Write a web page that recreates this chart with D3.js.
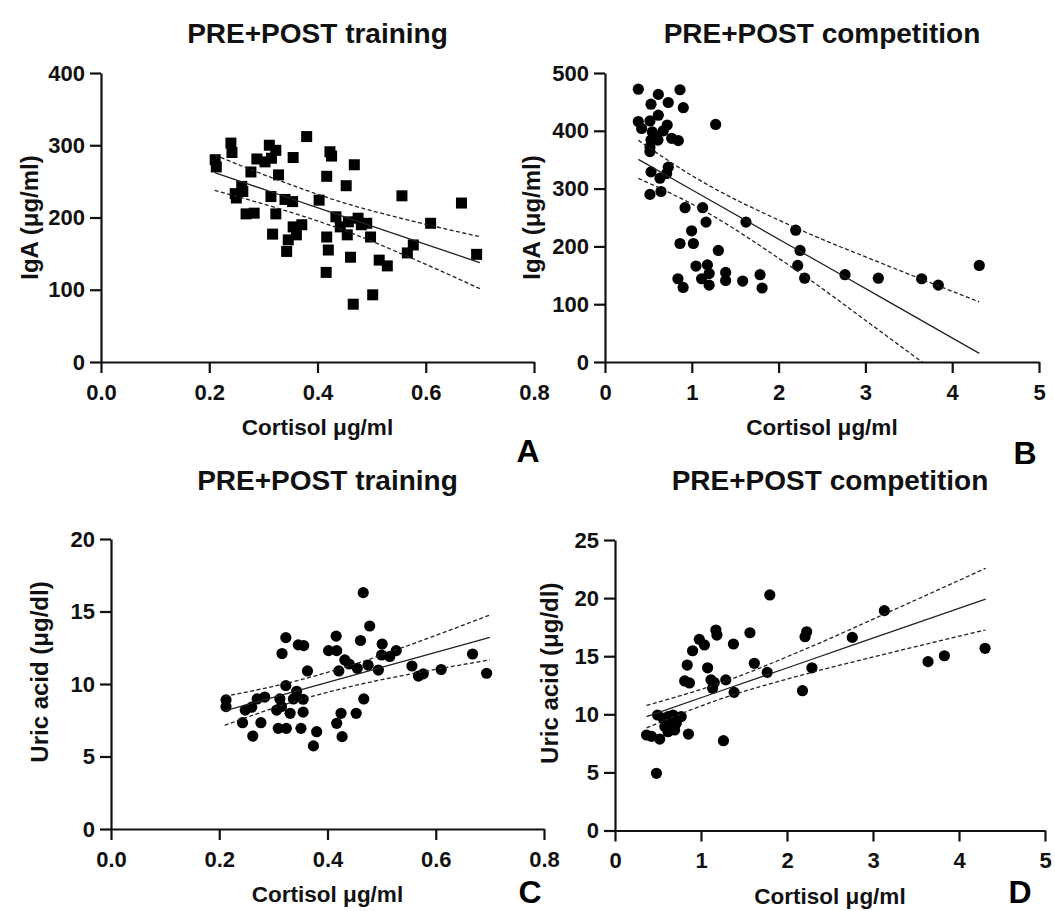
<!DOCTYPE html>
<html>
<head>
<meta charset="utf-8">
<script src="https://cdn.jsdelivr.net/npm/d3@7"></script>
<style>
  body { margin: 0; background: #fff; }
  text { font-family: "Liberation Sans", Arial, sans-serif; font-weight: bold; }
</style>
</head>
<body>
<svg width="1055" height="911"></svg>
<script>
// ---- data ----
var titles = ["PRE+POST training", "PRE+POST competition", "PRE+POST training", "PRE+POST competition"];
var letters = ["A", "B", "C", "D"];
var xTitle = "Cortisol \u03bcg/ml";
var yTitleIgA = "IgA (\u03bcg/ml)";
var yTitleUric = "Uric acid (\u03bcg/dl)";

var xTicksTraining = [0, 0.2, 0.4, 0.6, 0.8];
var xTicksCompetition = [0, 1, 2, 3, 4, 5];
var yTicksA = [0, 100, 200, 300, 400];
var yTicksB = [0, 100, 200, 300, 400, 500];
var yTicksC = [0, 5, 10, 15, 20];
var yTicksD = [0, 5, 10, 15, 20, 25];

// A: training, cortisol vs IgA
var aCortisol = [0.211,0.213,0.240,0.242,0.288,0.311,0.323,0.315,0.303,0.277,0.328,0.355,0.380,0.423,0.426,0.468,0.417,0.453,0.556,0.666,
  0.260,0.248,0.250,0.262,0.314,0.340,0.354,0.403,0.268,0.283,0.323,0.317,0.355,0.371,0.361,0.346,0.343,0.434,0.442,0.457,
  0.475,0.491,0.481,0.455,0.417,0.420,0.498,0.461,0.416,0.514,0.529,0.577,0.566,0.609,0.694,0.502,0.466];
var aIgA = [280,270,303,290,281,300,293,282,277,263,259,283,312,291,285,273,257,244,230,220,
  243,233,227,236,229,225,222,224,205,206,205,177,187,190,176,169,153,201,187,194,
  199,192,190,176,173,155,173,145,124,141,133,162,151,192,149,93,80];
var aFitX = [0.21, 0.33, 0.45, 0.57, 0.70];
var aFit = [262, 231.5, 201, 170.5, 137.5];
var aUpper = [286.5, 251, 220, 196, 173.5];
var aLower = [237.5, 212, 182, 145, 101.5];

// B: competition, cortisol vs IgA
var bCortisol = [0.384,0.614,0.864,0.530,0.729,0.902,0.614,0.384,0.518,0.422,0.717,0.671,0.545,0.590,0.530,0.610,0.768,0.845,1.275,0.518,
  0.518,0.530,0.729,0.710,0.633,0.518,0.645,0.922,1.125,1.164,1.624,0.998,0.864,1.018,1.306,1.048,1.180,1.200,1.113,0.840,
  0.900,1.200,1.390,1.390,1.586,1.786,1.810,2.197,2.247,2.220,2.300,2.765,3.149,3.648,3.840,4.312];
var bIgA = [472,463,471,446,449,440,427,416,417,404,410,400,398,390,384,384,387,383,411,372,
  364,329,337,326,318,290,295,267,267,242,242,227,205,205,193,166,168,153,144,144,
  129,133,155,141,140,151,128,228,193,167,145,151,145,144,133,167];
var bFitX = [0.384, 1.0, 2.2, 3.2, 4.312];
var bFit = [350.6, 298, 195.5, 110, 15];
var bUpper = [383.5, 322.6, 232, 170, 104];
var bLower = [317.7, 273.4, 159, 50, -74];

// C: training, cortisol vs uric acid
var cCortisol = [0.466,0.478,0.323,0.316,0.346,0.356,0.416,0.461,0.402,0.417,0.501,0.527,0.500,0.515,0.432,0.440,0.455,0.475,0.494,0.421,
  0.363,0.556,0.568,0.577,0.610,0.668,0.694,0.2125,0.2125,0.248,0.260,0.270,0.284,0.243,0.277,0.262,0.312,0.323,0.343,0.337,
  0.355,0.306,0.315,0.331,0.355,0.309,0.324,0.351,0.380,0.374,0.425,0.417,0.427,0.453,0.467];
var cUric = [16.3,14.0,13.2,12.1,12.7,12.65,13.3,13.0,12.3,12.3,12.76,12.3,12.0,11.9,11.66,11.38,11.08,11.3,10.96,10.9,
  10.9,11.24,10.55,10.7,11.0,12.07,10.74,8.9,8.44,8.2,8.4,8.97,9.1,7.33,7.33,6.41,8.97,9.89,9.5,8.97,
  8.95,8.2,8.45,7.98,8.06,6.94,6.94,6.94,6.71,5.73,7.98,7.29,6.37,7.98,8.97];
var cFitX = [0.21, 0.33, 0.45, 0.57, 0.70];
var cFit = [8.15, 9.39, 10.63, 11.87, 13.21];
var cUpper = [9.15, 10.1, 11.37, 12.94, 14.76];
var cLower = [7.15, 8.69, 9.89, 10.80, 11.66];

// D: competition, cortisol vs uric acid
var dCortisol = [1.800,3.132,2.759,2.229,2.210,2.290,2.180,3.640,3.830,4.303,1.569,1.620,1.770,1.377,1.385,1.173,1.185,0.980,1.040,0.902,
  0.840,1.077,0.810,0.866,1.116,1.154,1.135,1.288,1.261,0.482,0.367,0.425,0.520,0.495,0.560,0.616,0.674,0.730,0.770,0.580,
  0.654,0.712,0.616,0.693,0.854];
var dUric = [20.27,18.92,16.62,17.1,16.68,14.0,12.03,14.53,15.04,15.68,17.02,14.39,13.61,16.05,11.89,17.25,16.82,16.45,15.97,15.47,
  14.24,14.0,12.87,12.7,12.96,12.73,12.24,12.96,7.73,4.92,8.22,8.1,7.87,9.94,9.65,9.8,9.94,9.65,9.8,8.94,
  9.08,9.22,8.5,8.65,8.3];
var dFitX = [0.367, 1.2, 2.2, 3.2, 4.311];
var dFit = [9.8, 11.94, 14.5, 17.07, 19.92];
var dUpper = [10.77, 12.63, 15.57, 18.85, 22.57];
var dLower = [8.83, 11.25, 13.43, 15.29, 17.27];

var svg = d3.select("svg");

function panel(p) {
  var x = d3.scaleLinear().domain(p.xDomain).range(p.xRange);
  var y = d3.scaleLinear().domain(p.yDomain).range(p.yRange);
  var g = svg.append("g");

  svg.append("clipPath").attr("id", "clip" + p.letter)
    .append("rect")
    .attr("x", p.xRange[0]).attr("y", p.yRange[1])
    .attr("width", p.xRange[1] - p.xRange[0])
    .attr("height", p.yRange[0] - p.yRange[1]);

  // points
  var pts = d3.range(p.xs.length);
  if (p.square) {
    g.selectAll(".pt").data(pts).enter().append("rect")
      .attr("x", function(i) { return x(p.xs[i]) - 5.5; })
      .attr("y", function(i) { return y(p.ys[i]) - 5.5; })
      .attr("width", 11).attr("height", 11)
      .attr("fill", "#000");
  } else {
    g.selectAll(".pt").data(pts).enter().append("circle")
      .attr("cx", function(i) { return x(p.xs[i]); })
      .attr("cy", function(i) { return y(p.ys[i]); })
      .attr("r", 5.6)
      .attr("fill", "#000");
  }

  // fit line and confidence band
  var line = d3.line()
    .x(function(d) { return x(d[0]); })
    .y(function(d) { return y(d[1]); })
    .curve(d3.curveMonotoneX);
  var fits = [[p.fit, "none"], [p.upper, "4,2.5"], [p.lower, "4,2.5"]];
  fits.forEach(function(f) {
    g.append("path")
      .attr("d", line(p.fitX.map(function(v, i) { return [v, f[0][i]]; })))
      .attr("fill", "none")
      .attr("stroke", "#222")
      .attr("stroke-width", 1.3)
      .attr("stroke-dasharray", f[1])
      .attr("clip-path", "url(#clip" + p.letter + ")");
  });

  // axes
  var xa = g.append("g")
    .attr("transform", "translate(0," + p.yRange[0] + ")")
    .call(d3.axisBottom(x).tickValues(p.xTicks).tickFormat(p.xFormat)
      .tickSize(11).tickSizeOuter(0).tickPadding(11));
  var ya = g.append("g")
    .attr("transform", "translate(" + p.xRange[0] + ",0)")
    .call(d3.axisLeft(y).tickValues(p.yTicks).tickFormat(d3.format("d"))
      .tickSize(11).tickSizeOuter(0).tickPadding(5));
  [xa, ya].forEach(function(a) {
    a.attr("font-family", null).attr("font-size", 22);
    a.select(".domain").attr("stroke", "#111").attr("stroke-width", 2.2);
    a.selectAll(".tick line").attr("stroke", "#111").attr("stroke-width", 2.2);
    a.selectAll(".tick text").attr("fill", "#111");
  });

  var cx = (p.xRange[0] + p.xRange[1]) / 2;
  var cy = (p.yRange[0] + p.yRange[1]) / 2 + p.yTitleShift;

  g.append("text").attr("x", cx).attr("y", p.titleY)
    .attr("text-anchor", "middle").attr("font-size", 28).attr("fill", "#111")
    .text(p.title);
  g.append("text").attr("x", cx).attr("y", p.yRange[0] + 73)
    .attr("text-anchor", "middle").attr("font-size", 22.5).attr("fill", "#111")
    .text(xTitle);
  g.append("text")
    .attr("transform", "translate(" + p.yTitleX + "," + cy + ") rotate(-90)")
    .attr("text-anchor", "middle").attr("font-size", 24).attr("fill", "#111")
    .text(p.yTitle);
  g.append("text").attr("x", p.letterX).attr("y", p.letterY)
    .attr("text-anchor", "middle").attr("font-size", 32).attr("fill", "#000")
    .text(p.letter);
}

panel({
  letter: letters[0], title: titles[0], yTitle: yTitleIgA, square: true,
  xDomain: [0, 0.8], xRange: [101, 534], yDomain: [0, 400], yRange: [362, 73],
  xTicks: xTicksTraining, yTicks: yTicksA, xFormat: d3.format(".1f"),
  xs: aCortisol, ys: aIgA, fitX: aFitX, fit: aFit, upper: aUpper, lower: aLower,
  titleY: 43, yTitleX: 38, yTitleShift: 0, letterX: 528, letterY: 462
});
panel({
  letter: letters[1], title: titles[1], yTitle: yTitleIgA, square: false,
  xDomain: [0, 5], xRange: [605, 1039], yDomain: [0, 500], yRange: [362, 73],
  xTicks: xTicksCompetition, yTicks: yTicksB, xFormat: d3.format("d"),
  xs: bCortisol, ys: bIgA, fitX: bFitX, fit: bFit, upper: bUpper, lower: bLower,
  titleY: 43, yTitleX: 540, yTitleShift: 0, letterX: 1025, letterY: 464
});
panel({
  letter: letters[2], title: titles[2], yTitle: yTitleUric, square: false,
  xDomain: [0, 0.8], xRange: [111, 544], yDomain: [0, 20], yRange: [829, 539],
  xTicks: xTicksTraining, yTicks: yTicksC, xFormat: d3.format(".1f"),
  xs: cCortisol, ys: cUric, fitX: cFitX, fit: cFit, upper: cUpper, lower: cLower,
  titleY: 490, yTitleX: 48, yTitleShift: -12, letterX: 530, letterY: 903
});
panel({
  letter: letters[3], title: titles[3], yTitle: yTitleUric, square: false,
  xDomain: [0, 5], xRange: [615, 1045], yDomain: [0, 25], yRange: [830.5, 540],
  xTicks: xTicksCompetition, yTicks: yTicksD, xFormat: d3.format("d"),
  xs: dCortisol, ys: dUric, fitX: dFitX, fit: dFit, upper: dUpper, lower: dLower,
  titleY: 490, yTitleX: 558, yTitleShift: -12, letterX: 1020, letterY: 903
});
</script>
</body>
</html>
